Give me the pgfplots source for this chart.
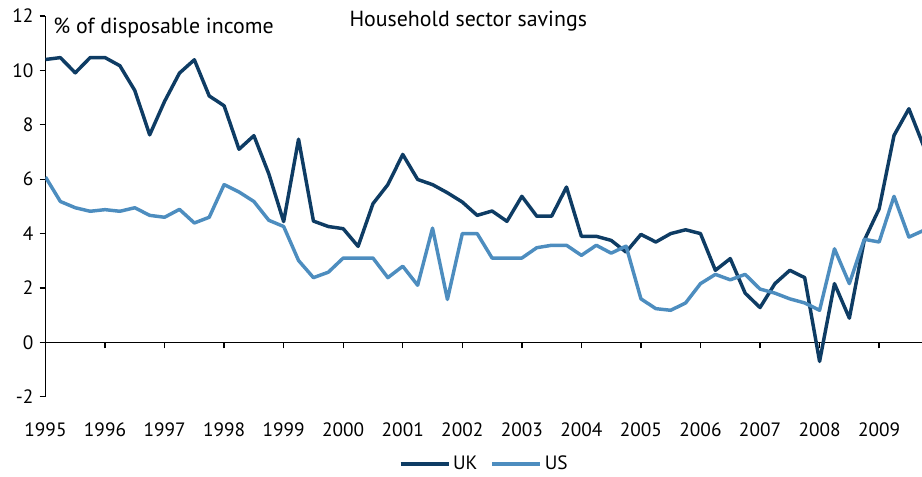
\documentclass[border=0pt]{standalone}
\usepackage{fontspec}
\setmainfont{PT Sans}
\usepackage{pgfplots}
\usepackage{pgfplotstable}
\pgfplotsset{compat=1.18}
\definecolor{ukc}{RGB}{14,60,100}
\definecolor{usc}{RGB}{77,141,191}
\pgfplotsset{longleg/.style={legend image code/.code={\draw[##1] (0pt,0pt) -- (36pt,0pt);}}}

\pgfplotstableread{
x uk us
1995.00 10.40 6.08
1995.25 10.47 5.18
1995.50 9.91 4.95
1995.75 10.47 4.82
1996.00 10.47 4.88
1996.25 10.17 4.82
1996.50 9.26 4.95
1996.75 7.63 4.67
1997.00 8.86 4.60
1997.25 9.90 4.89
1997.50 10.39 4.39
1997.75 9.06 4.60
1998.00 8.70 5.80
1998.25 7.10 5.53
1998.50 7.60 5.18
1998.75 6.20 4.49
1999.00 4.44 4.26
1999.25 7.47 3.01
1999.50 4.46 2.38
1999.75 4.26 2.58
2000.00 4.18 3.10
2000.25 3.53 3.10
2000.50 5.10 3.10
2000.75 5.80 2.38
2001.00 6.91 2.80
2001.25 5.99 2.10
2001.50 5.80 4.20
2001.75 5.50 1.58
2002.00 5.16 4.00
2002.25 4.67 4.00
2002.50 4.83 3.10
2002.75 4.45 3.10
2003.00 5.37 3.10
2003.25 4.64 3.48
2003.50 4.64 3.57
2003.75 5.71 3.57
2004.00 3.90 3.20
2004.25 3.90 3.57
2004.50 3.75 3.28
2004.75 3.32 3.54
2005.00 3.97 1.60
2005.25 3.69 1.24
2005.50 4.00 1.18
2005.75 4.14 1.45
2006.00 4.00 2.16
2006.25 2.65 2.50
2006.50 3.08 2.30
2006.75 1.81 2.50
2007.00 1.28 1.96
2007.25 2.16 1.81
2007.50 2.65 1.60
2007.75 2.38 1.45
2008.00 -0.70 1.18
2008.25 2.16 3.44
2008.50 0.89 2.16
2008.75 3.75 3.79
2009.00 4.91 3.69
2009.25 7.61 5.37
2009.50 8.59 3.87
2009.75 7.20 4.12
}\savingsdata

\begin{document}
\begin{tikzpicture}[font=\fontsize{14.5}{17}\selectfont]
\begin{axis}[
  name=ax,
  scale only axis,
  width=657.75pt, height=285.75pt,
  xmin=1995, xmax=2009.72,
  ymin=-2, ymax=12,
  axis x line=middle,
  axis y line=left,
  axis line style={-, line width=1pt, black},
  every inner x axis line/.append style={-},
  hide obscured x ticks=false,
  hide obscured y ticks=false,
  xtick={1995,1996,...,2009},
  ytick={-2,0,...,12},
  tick align=outside,
  major tick length=4.5pt,
  tick style={line width=1pt, black},
  /pgf/number format/assume math mode=true,
  /pgf/number format/1000 sep={},
  x tick label style={yshift=-52.5pt},
  y tick label style={xshift=-1pt},
  clip mode=individual,
  legend style={at={(0.501,-0.176)}, anchor=center, draw=none, legend columns=2,
    font=\fontsize{14.5}{17}\selectfont,
    /tikz/every even column/.append style={column sep=8pt}},
]
\addplot[ukc, line width=2.6pt, line join=round, longleg] table[x=x, y=uk] {\savingsdata};
\addlegendentry{UK}
\addplot[usc, line width=2.6pt, line join=round, longleg] table[x=x, y=us] {\savingsdata};
\addlegendentry{US}
\node[anchor=base west, inner sep=0pt, font=\fontsize{16.4}{19}\selectfont] at (axis cs:1995.13,11.34) {\% of disposable income};
\node[anchor=base, inner sep=0pt, font=\fontsize{16.4}{19}\selectfont] at (axis cs:2002.1,11.6) {Household sector savings};
\end{axis}
\pgfresetboundingbox
\path ([shift={(-34.125pt,-60pt)}]ax.south west) rectangle ([shift={(0pt,12pt)}]ax.north east);
\end{tikzpicture}
\end{document}
